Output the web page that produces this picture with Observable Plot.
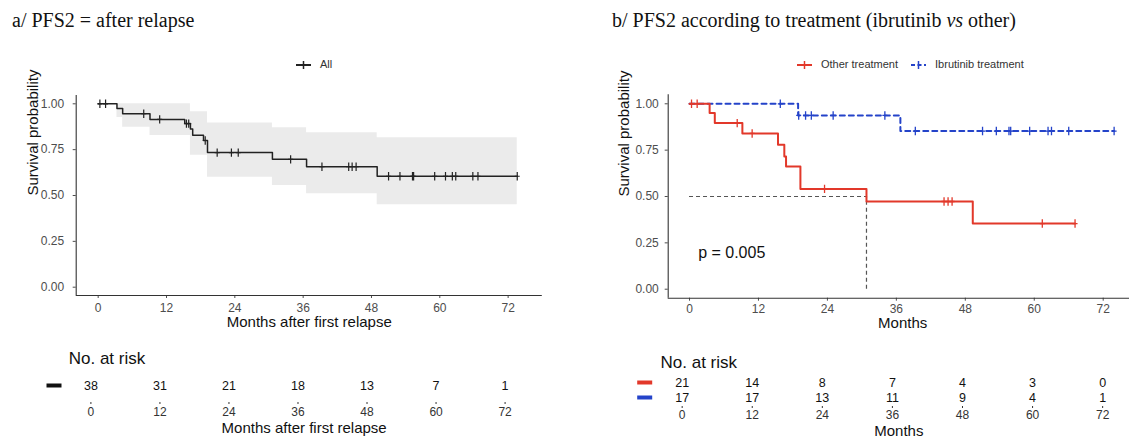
<!DOCTYPE html>
<html><head><meta charset="utf-8">
<script src="https://cdn.jsdelivr.net/npm/d3@7"></script>
<script src="https://cdn.jsdelivr.net/npm/@observablehq/plot@0.6"></script>
<style>
body{margin:0;background:#fff;}
#root{position:relative;width:1129px;height:440px;overflow:hidden;font-family:"Liberation Sans",Arial,sans-serif;background:#fff;}
.abs{position:absolute;}
.title{font-family:"Liberation Serif","Times New Roman",serif;font-size:20px;color:#111;white-space:nowrap;line-height:1;}
.leg{font-size:11px;color:#333;display:flex;align-items:center;white-space:nowrap;line-height:1;}
.leg svg{margin-right:9px;}
</style></head><body><div id="root"></div>
<script>
// ---------------- data ----------------
const monthTicks = [0, 12, 24, 36, 48, 60, 72];
const survTicks = [0, 0.25, 0.5, 0.75, 1];

// Panel a: all patients (Kaplan-Meier steps)
const allTime = [0, 3.3, 4.3, 9.1, 15.2, 16.2, 16.6, 18.5, 19.2, 30.6, 36.6, 49.0, 73.6];
const allSurv = [1, 0.974, 0.946, 0.915, 0.892, 0.863, 0.829, 0.800, 0.734, 0.697, 0.657, 0.605, 0.605];
const allCensor = [0.3, 1.3, 8.0, 10.8, 15.5, 15.9, 18.8, 20.9, 23.4, 24.6, 33.8, 39.3, 44.0, 44.6, 45.3, 51.0, 53.0, 55.2, 55.4, 59.1, 61.0, 62.2, 62.8, 65.8, 66.7, 73.6];
const bandTime = [3.3, 4.3, 9.1, 16.2, 19.2, 30.6, 36.6, 49.0, 73.6];
const bandLow  = [0.925, 0.872, 0.827, 0.720, 0.600, 0.555, 0.509, 0.449, 0.449];
const bandHigh = [1.0, 1.0, 1.0, 0.957, 0.896, 0.869, 0.842, 0.815, 0.815];

// Panel b: other treatment vs ibrutinib
const groups = ["Other treatment", "Ibrutinib treatment"];
const groupColors = ["#e2382a", "#2443c9"];
const otherTime = [0, 3.5, 4.4, 9.2, 15.4, 16.5, 16.8, 19.3, 30.8, 49.3, 67.1];
const otherSurv = [1, 0.951, 0.896, 0.840, 0.779, 0.716, 0.662, 0.541, 0.473, 0.354, 0.354];
const otherCensor = [0.35, 1.33, 8.3, 10.9, 23.5, 44.3, 45.0, 45.7, 61.4, 67.1];
const ibruTime = [0, 18.9, 36.7, 73.9];
const ibruSurv = [1, 0.937, 0.853, 0.853];
const ibruCensor = [15.8, 19.0, 20.2, 21.2, 25.0, 34.0, 39.3, 51.0, 53.4, 55.6, 55.9, 59.2, 62.4, 63.0, 66.0, 73.9];
const medianTime = 30.8;
const medianSurv = 0.5;
const pText = "p = 0.005";
const pPos = {t: 1.5, s: 0.194};

// Numbers at risk
const riskAll = [38, 31, 21, 18, 13, 7, 1];
const riskOther = [21, 14, 8, 7, 4, 3, 0];
const riskIbru = [17, 17, 13, 11, 9, 4, 1];

// ---------------- helpers ----------------
const FONT = '"Liberation Sans", Arial, sans-serif';
const steps = (T, S) => T.map((t, i) => ({t, s: S[i]}));
const survAt = (st, t) => { let s = st[0].s; for (const d of st) if (d.t <= t) s = d.s; return s; };
const censors = (st, C) => C.map(t => ({t, s: survAt(st, t)}));
const plusSym = {draw(ctx) { ctx.moveTo(0, -4.2); ctx.lineTo(0, 4.2); ctx.moveTo(-2.5, 0); ctx.lineTo(2.5, 0); }};
const barSym = {draw(ctx) { ctx.rect(-7.5, -2, 15, 4); }};

const root = document.getElementById("root");
function place(node, left, top) {
  node.style.position = "absolute"; node.style.left = left + "px"; node.style.top = top + "px";
  root.appendChild(node);
}
function html(cls, content, left, top) {
  const d = document.createElement("div"); d.className = "abs " + cls; d.innerHTML = content;
  d.style.left = left + "px"; d.style.top = top + "px"; root.appendChild(d); return d;
}
function glyph(color, dashed) {
  return `<svg width="15" height="10"><line x1="0" x2="15" y1="5" y2="5" stroke="${color}" stroke-width="2" ${dashed ? 'stroke-dasharray="4,2.5"' : ''}/><line x1="7.5" x2="7.5" y1="1" y2="9" stroke="${color}" stroke-width="1.5"/></svg>`;
}

// ---------------- titles & legends ----------------
html("title", "a/ PFS2 = after relapse", 12, 10);
html("title", "b/ PFS2 according to treatment (ibrutinib <i>vs</i> other)", 612, 10);
html("leg", glyph("#222", false) + "All", 296, 59);
html("leg", glyph(groupColors[0], false) + groups[0] + '<span style="display:inline-block;width:13px"></span>' + glyph(groupColors[1], true) + groups[1], 797, 59);

// ---------------- panel a ----------------
const stAll = steps(allTime, allSurv);
const band = bandTime.map((t, i) => ({t, lo: bandLow[i], hi: bandHigh[i]}));
const xDomA = [-3.86, 78.0], yDomA = [-0.0453, 1.0453];
const plotA = Plot.plot({
  width: 560, height: 340, marginLeft: 75.7, marginRight: 18.2, marginTop: 95, marginBottom: 45,
  style: {fontFamily: FONT, fontSize: "12px", color: "#4d4d4d", background: "transparent"},
  x: {domain: xDomA, ticks: monthTicks, tickSize: 3, tickPadding: 4.5, label: null},
  y: {domain: yDomA, ticks: survTicks, tickFormat: ".2f", tickSize: 3, tickPadding: 9, label: null},
  marks: [
    Plot.areaY(band, {x: "t", y1: "lo", y2: "hi", curve: "step-after", fill: "#ebebeb"}),
    Plot.ruleX([xDomA[0]], {stroke: "#333", strokeWidth: 1.1}),
    Plot.ruleY([yDomA[0]], {stroke: "#333", strokeWidth: 1.1}),
    Plot.line(stAll, {x: "t", y: "s", curve: "step-after", stroke: "#222", strokeWidth: 1.5}),
    Plot.dot(censors(stAll, allCensor), {x: "t", y: "s", symbol: plusSym, fill: "none", stroke: "#222", strokeWidth: 1.2}),
    Plot.text(["Months after first relapse"], {text: d => d, frameAnchor: "bottom", dy: 31.5, fontSize: 15, fill: "#111"}),
    Plot.text(["Survival probability"], {text: d => d, frameAnchor: "left", dx: -43, rotate: -90, fontSize: 15, fill: "#111"})
  ]
});
place(plotA, 0, 0);

// ---------------- panel b ----------------
const stOther = steps(otherTime, otherSurv);
const stIbru = steps(ibruTime, ibruSurv);
const xDomB = [-3.71, 77.9], yDomB = [-0.0485, 1.0485];
const plotB = Plot.plot({
  width: 560, height: 340, marginLeft: 87.7, marginRight: 3.4, marginTop: 94.3, marginBottom: 42.3,
  style: {fontFamily: FONT, fontSize: "12px", color: "#4d4d4d", background: "transparent"},
  x: {domain: xDomB, ticks: monthTicks, tickSize: 3, tickPadding: 3.5, label: null},
  y: {domain: yDomB, ticks: survTicks, tickFormat: ".2f", tickSize: 3, tickPadding: 6.4, label: null},
  marks: [
    Plot.ruleX([xDomB[0]], {stroke: "#333", strokeWidth: 1.1}),
    Plot.ruleY([yDomB[0]], {stroke: "#333", strokeWidth: 1.1}),
    Plot.ruleY([{y: medianSurv, x1: 0, x2: medianTime}], {y: "y", x1: "x1", x2: "x2", stroke: "#555", strokeWidth: 1.2, strokeDasharray: "4,3"}),
    Plot.ruleX([{x: medianTime, y1: 0, y2: medianSurv}], {x: "x", y1: "y1", y2: "y2", stroke: "#555", strokeWidth: 1.2, strokeDasharray: "4,3"}),
    Plot.line(stIbru, {x: "t", y: "s", curve: "step-after", stroke: groupColors[1], strokeWidth: 2, strokeDasharray: "5,4"}),
    Plot.dot(censors(stIbru, ibruCensor), {x: "t", y: "s", symbol: plusSym, fill: "none", stroke: groupColors[1], strokeWidth: 1.3}),
    Plot.line(stOther, {x: "t", y: "s", curve: "step-after", stroke: groupColors[0], strokeWidth: 2}),
    Plot.dot(censors(stOther, otherCensor), {x: "t", y: "s", symbol: plusSym, fill: "none", stroke: groupColors[0], strokeWidth: 1.3}),
    Plot.text([pPos], {x: "t", y: "s", text: () => pText, textAnchor: "start", fontSize: 16, fill: "#111"}),
    Plot.text(["Months"], {text: d => d, frameAnchor: "bottom", dy: 30, fontSize: 15, fill: "#111"}),
    Plot.text(["Survival probability"], {text: d => d, frameAnchor: "left", dx: -44.4, rotate: -90, fontSize: 15, fill: "#111"})
  ]
});
place(plotB, 580, 0);

// ---------------- risk table a ----------------
const rowsA = monthTicks.map((t, i) => ({t, g: "All", n: riskAll[i]}));
const plotC = Plot.plot({
  width: 560, height: 105, marginLeft: 68.2, marginRight: 20.9, marginTop: 0, marginBottom: 38,
  style: {fontFamily: FONT, fontSize: "12px", color: "#333", background: "transparent"},
  x: {domain: xDomA, ticks: monthTicks, tickSize: 2, tickPadding: 3, label: null},
  y: {type: "point", domain: ["All"], range: [50, 50], padding: 0, axis: null},
  marks: [
    Plot.text(["No. at risk"], {text: d => d, frameAnchor: "top-left", textAnchor: "start", dy: 16.7, fontSize: 17, fill: "#111"}),
    Plot.dot(["All"], {y: d => d, frameAnchor: "left", dx: -14.7, symbol: barSym, fill: "#111", stroke: "none"}),
    Plot.text(rowsA, {x: "t", y: "g", text: "n", fontSize: 12.5, fill: "#111"}),
    Plot.text(["Months after first relapse"], {text: d => d, frameAnchor: "bottom", dy: 30, fontSize: 15, fill: "#111"})
  ]
});
place(plotC, 0, 335);

// ---------------- risk table b ----------------
const rowsB = monthTicks.flatMap((t, i) => [
  {t, g: groups[0], n: riskOther[i]},
  {t, g: groups[1], n: riskIbru[i]}
]);
const plotD = Plot.plot({
  width: 560, height: 105, marginLeft: 80, marginRight: 3.4, marginTop: 0, marginBottom: 34,
  style: {fontFamily: FONT, fontSize: "12px", color: "#333", background: "transparent"},
  x: {domain: xDomB, ticks: monthTicks, tickSize: 2, tickPadding: 2, label: null},
  y: {type: "point", domain: groups, range: [46.7, 61.7], padding: 0, axis: null},
  marks: [
    Plot.text(["No. at risk"], {text: d => d, frameAnchor: "top-left", textAnchor: "start", dy: 20.7, fontSize: 17, fill: "#111"}),
    Plot.dot(groups, {y: d => d, frameAnchor: "left", dx: -15.8, symbol: barSym, fill: (d, i) => groupColors[i], stroke: "none"}),
    Plot.text(rowsB, {x: "t", y: "g", text: "n", fontSize: 12.5, fill: "#111"}),
    Plot.text(["Months"], {text: d => d, frameAnchor: "bottom", dy: 29.3, fontSize: 15, fill: "#111"})
  ]
});
place(plotD, 580, 335);
</script>
</body></html>
